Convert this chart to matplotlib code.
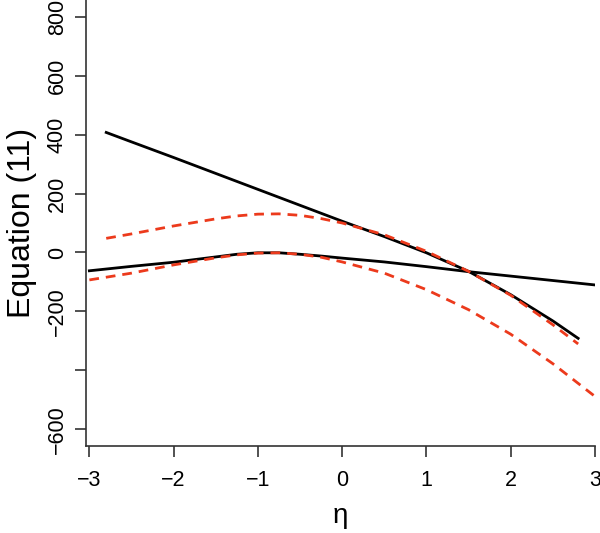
import numpy as np
import matplotlib
matplotlib.use('Agg')
import matplotlib.pyplot as plt

plt.rcParams['font.family'] = ['Liberation Sans', 'DejaVu Sans']

# black curve 1 (steep, on -2.8 .. 2.8)
eta_b1 = [-2.8, -2.5, -2.0, -1.5, -1.0, -0.5, 0.0, 0.5, 1.0, 1.5, 2.0, 2.5, 2.8]
val_b1 = [407, 375, 322, 268, 214, 160, 106, 54, -1, -64, -143, -232, -291]

# black curve 2 (flat, on -3 .. 3)
eta_b2 = [-3.0, -2.5, -2.0, -1.5, -1.25, -1.0, -0.75, -0.5, -0.25, 0.0, 0.5, 1.0, 1.5, 2.0, 2.5, 3.0]
val_b2 = [-62, -47, -33, -15, -6, -1, -1, -6, -12, -19, -32, -48, -65, -80, -95, -110]

# red dashed, upper (on -2.8 .. 2.8)
eta_r1 = [-2.8, -2.5, -2.0, -1.5, -1.25, -1.0, -0.75, -0.5, -0.25, 0.0, 0.5, 1.0, 1.5, 2.0, 2.5, 2.8]
val_r1 = [48, 63, 90, 114, 124, 130, 131, 126, 115, 100, 60, 4, -64, -145, -245, -310]

# red dashed, lower (on -3 .. 3)
eta_r2 = [-3.0, -2.5, -2.0, -1.5, -1.25, -1.0, -0.75, -0.5, -0.25, 0.0, 0.5, 1.0, 1.5, 2.0, 2.5, 3.0]
val_r2 = [-93, -70, -42, -18, -8, -2, -1, -6, -16, -32, -70, -126, -194, -277, -377, -488]

xticks = [-3, -2, -1, 0, 1, 2, 3]
yticks = [-600, -400, -200, 0, 200, 400, 600, 800]
ytick_labels = ['\u2212600', '', '\u2212200', '0', '200', '400', '600', '800']

fig = plt.figure(figsize=(6, 5.33), dpi=100)
ax = fig.add_axes([86 / 600, 1 - 446 / 533, (595 - 86) / 600, 446 / 533])

red = '#ec3a1c'
ax.plot(eta_b1, val_b1, color='black', lw=2)
ax.plot(eta_b2, val_b2, color='black', lw=2)
ax.plot(eta_r1, val_r1, color=red, lw=2, dashes=(3.5, 2.5))
ax.plot(eta_r2, val_r2, color=red, lw=2, dashes=(3.5, 2.5))

ax.set_xlim(-3.04, 3.0)
ax.set_ylim(-656, 856)

for s in ['top', 'right']:
    ax.spines[s].set_visible(False)
for s in ['left', 'bottom']:
    ax.spines[s].set_linewidth(1.2)
    ax.spines[s].set_color('#333333')

ax.set_xticks(xticks)
ax.set_xticklabels(['\u2212' + str(-t) if t < 0 else str(t) for t in xticks])
ax.set_yticks(yticks)
ax.set_yticklabels(ytick_labels, rotation=90, va='center')
ax.tick_params(length=8, width=1.2, color='#333333', labelsize=15.5)
ax.tick_params(axis='x', pad=9)
ax.tick_params(axis='y', pad=5)

ax.set_xlabel('\u03b7', fontsize=20)
ax.set_ylabel('Equation (11)', fontsize=23)
ax.xaxis.set_label_coords(0.5, -0.128)
ax.yaxis.set_label_coords(-0.097, 0.5)

fig.savefig('out.png', dpi=100)
